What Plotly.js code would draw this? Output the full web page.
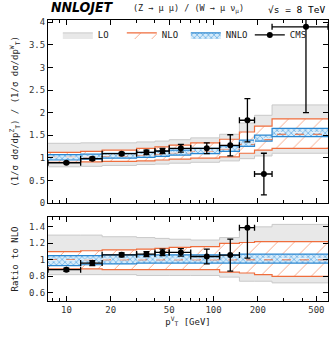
<!DOCTYPE html>
<html>
<head>
<meta charset="utf-8">
<script src="https://cdn.plot.ly/plotly-3.0.1.min.js"></script>
<style>
  html, body { margin: 0; padding: 0; background: #fff; }
  #chart { width: 331px; height: 338px; }
</style>
</head>
<body>
<div id="chart"></div>
<script>
// bins in pT^V [GeV]
var binEdges = [7.5, 12.5, 17.5, 30, 40, 50, 70, 110, 150, 190, 250, 600];

// upper panel: Z/W ratio of normalised distributions
var loLow    = [0.80, 0.81, 0.83, 0.85, 0.86, 0.88, 0.90, 0.93, 0.98, 1.04, 1.10];
var loHigh   = [1.32, 1.33, 1.33, 1.35, 1.37, 1.40, 1.44, 1.52, 1.77, 1.94, 2.17];
var nloLow   = [0.90, 0.91, 0.92, 0.93, 0.95, 0.97, 0.99, 1.02, 1.10, 1.17, 1.21];
var nloMid   = [1.01, 1.02, 1.04, 1.06, 1.08, 1.11, 1.14, 1.19, 1.30, 1.40, 1.52];
var nloHigh  = [1.12, 1.14, 1.17, 1.21, 1.24, 1.28, 1.33, 1.41, 1.57, 1.70, 1.86];
var nnloLow  = [0.95, 0.97, 0.99, 1.01, 1.03, 1.06, 1.09, 1.14, 1.25, 1.37, 1.47];
var nnloMid  = [1.01, 1.03, 1.05, 1.07, 1.09, 1.12, 1.15, 1.20, 1.32, 1.43, 1.56];
var nnloHigh = [1.07, 1.08, 1.10, 1.12, 1.14, 1.17, 1.21, 1.26, 1.39, 1.50, 1.65];

var cmsX      = [10, 15, 23.75, 35, 45, 60, 90, 130, 170, 220, 425];
var cmsY      = [0.89, 0.98, 1.09, 1.12, 1.15, 1.21, 1.21, 1.275, 1.83, 0.64, 3.9];
var cmsErr    = [0.02, 0.035, 0.03, 0.05, 0.06, 0.085, 0.12, 0.235, 0.48, 0.46, 1.9];

// lower panel: ratio to NLO
var rLoLow    = [0.82, 0.82, 0.82, 0.81, 0.81, 0.81, 0.81, 0.79, 0.74, 0.74, 0.72];
var rLoHigh   = [1.30, 1.30, 1.28, 1.27, 1.26, 1.25, 1.24, 1.27, 1.39, 1.40, 1.43];
var rNloLow   = [0.89, 0.89, 0.88, 0.88, 0.88, 0.88, 0.88, 0.85, 0.84, 0.82, 0.80];
var rNloHigh  = [1.10, 1.11, 1.12, 1.13, 1.14, 1.15, 1.16, 1.20, 1.21, 1.22, 1.22];
var rNnloLow  = [0.93, 0.94, 0.95, 0.96, 0.96, 0.96, 0.96, 0.96, 0.96, 0.96, 0.96];
var rNnloMid  = [0.99, 1.00, 1.01, 1.01, 1.01, 1.01, 1.01, 1.01, 1.015, 1.015, 1.015];
var rNnloHigh = [1.05, 1.05, 1.06, 1.06, 1.06, 1.06, 1.06, 1.06, 1.07, 1.07, 1.07];
var rNloMid   = [1, 1, 1, 1, 1, 1, 1, 1, 1, 1, 1];

var rCmsY   = [0.88, 0.96, 1.06, 1.07, 1.09, 1.09, 1.04, 1.057, 1.39, null, null];
var rCmsErr = [0.02, 0.03, 0.025, 0.03, 0.04, 0.045, 0.09, 0.195, 0.37, null, null];

var xTicks = [10, 20, 50, 100, 200, 500];
var xMinor = [8, 9, 30, 40, 60, 70, 80, 90, 300, 400];

var ORANGE = '#ef6d3c', BLUE = '#2b87d1', GREY = '#c9c9c9';
var MONO = 'DejaVu Sans Mono';

function step(v){ return v.concat([v[v.length-1]]); }

function bandTraces(lo, hi, xa, ya, opt, leg){
  var low = {x: binEdges, y: step(lo), xaxis: xa, yaxis: ya, mode: 'lines',
    line: {shape: 'hv', color: opt.edge, width: opt.w}, showlegend: false, hoverinfo: 'skip'};
  var high = {x: binEdges, y: step(hi), xaxis: xa, yaxis: ya, mode: 'lines',
    line: {shape: 'hv', color: opt.edge, width: opt.w}, fill: 'tonexty',
    fillcolor: opt.fill, name: opt.name, showlegend: leg, legendgroup: opt.name, hoverinfo: 'skip'};
  if (opt.pattern) high.fillpattern = opt.pattern;
  return [low, high];
}
function midTrace(v, xa, ya, color, dash){
  return {x: binEdges, y: step(v), xaxis: xa, yaxis: ya, mode: 'lines',
    line: {shape: 'hv', color: color, width: 1, dash: dash}, showlegend: false, hoverinfo: 'skip'};
}

var LO = {name: 'LO', edge: GREY, w: 1, fill: '#e8e8e8'};
var NLO = {name: 'NLO', edge: ORANGE, w: 1.2, fill: '#ffffff',
  pattern: {shape: '/', fgcolor: '#f48a60', bgcolor: '#ffffff', size: 12, solidity: 0.06}};
var NNLO = {name: 'NNLO', edge: BLUE, w: 1.2, fill: '#bfe0f7',
  pattern: {shape: 'x', fgcolor: '#3d95da', bgcolor: '#d5ebfa', size: 4, solidity: 0.25}};

var xErrPlus = cmsX.map(function(c, i){ return binEdges[i+1] - c; });
var xErrMinus = cmsX.map(function(c, i){ return c - binEdges[i]; });

function cmsTrace(y, err, xa, ya){
  return {x: cmsX, y: y, xaxis: xa, yaxis: ya, mode: 'markers', showlegend: false,
    marker: {color: '#000', size: 6},
    error_y: {type: 'data', array: err, color: '#000', thickness: 1.3, width: 3},
    error_x: {type: 'data', symmetric: false, array: xErrPlus, arrayminus: xErrMinus,
      color: '#000', thickness: 1.3, width: 3},
    hoverinfo: 'skip'};
}

var data = []
  .concat(bandTraces(loLow, loHigh, 'x', 'y', LO, true))
  .concat(bandTraces(nloLow, nloHigh, 'x', 'y', NLO, true))
  .concat(bandTraces(nnloLow, nnloHigh, 'x', 'y', NNLO, true))
  .concat([midTrace(nloMid, 'x', 'y', ORANGE, 'dash'), midTrace(nnloMid, 'x', 'y', '#e8f4fd', 'dash')])
  .concat([cmsTrace(cmsY, cmsErr, 'x', 'y')])
  .concat([{x: [null], y: [null], mode: 'lines+markers', name: 'CMS', line: {color: '#000', width: 1.3},
    marker: {color: '#000', size: 6}, xaxis: 'x', yaxis: 'y'}])
  .concat(bandTraces(rLoLow, rLoHigh, 'x2', 'y2', LO, false))
  .concat(bandTraces(rNloLow, rNloHigh, 'x2', 'y2', NLO, false))
  .concat(bandTraces(rNnloLow, rNnloHigh, 'x2', 'y2', NNLO, false))
  .concat([midTrace(rNloMid, 'x2', 'y2', ORANGE, 'dash'), midTrace(rNnloMid, 'x2', 'y2', '#e8f4fd', 'dash')])
  .concat([cmsTrace(rCmsY, rCmsErr, 'x2', 'y2')]);

var tickFont = {family: MONO, size: 9, color: '#333'};
function xAxis(anchor, labels){
  return {type: 'log', range: [Math.log10(7.5), Math.log10(600)], anchor: anchor,
    showline: true, linecolor: '#000', linewidth: 1, mirror: 'allticks', ticks: 'inside',
    ticklen: 5, tickcolor: '#000', tickvals: xTicks, ticktext: xTicks.map(String),
    showticklabels: labels, tickfont: tickFont, showgrid: false, zeroline: false,
    minor: {tickvals: xMinor, ticklen: 3, tickcolor: '#000', ticks: 'inside', showgrid: false}};
}
function yAxis(anchor, domain, range, vals, text){
  return {anchor: anchor, domain: domain, range: range, showline: true, linecolor: '#000',
    linewidth: 1, mirror: 'allticks', ticks: 'inside', ticklen: 5, tickcolor: '#000',
    tickvals: vals, ticktext: text, tickfont: tickFont, showgrid: false, zeroline: false};
}

var topVals = [0, 0.5, 1, 1.5, 2, 2.5, 3, 3.5, 4];
var botVals = [0.6, 0.8, 1, 1.2, 1.4];

var xa2 = xAxis('y2', true);
xa2.title = {text: 'p<sup>V</sup><sub>T</sub> [GeV]', font: {family: MONO, size: 9, color: '#222'}, standoff: 4};
var ya = yAxis('x', [0.349, 1], [0, 4.05], topVals, topVals.map(String));
ya.title = {text: '(1/σ dσ/dp<sup>Z</sup><sub>T</sub>) / (1/σ dσ/dp<sup>W</sup><sub>T</sub>)',
  font: {family: MONO, size: 9, color: '#222'}, standoff: 8};
var ya2 = yAxis('x2', [0, 0.299], [0.5, 1.52], botVals, botVals.map(String));
ya2.title = {text: 'Ratio to NLO', font: {family: MONO, size: 9, color: '#222'}, standoff: 8};

var layout = {
  width: 331, height: 338,
  margin: {l: 48, r: 3, t: 20, b: 37},
  paper_bgcolor: '#fff', plot_bgcolor: '#fff',
  showlegend: true,
  legend: {orientation: 'h', x: 0.035, y: 0.947, xanchor: 'left', yanchor: 'middle',
    entrywidth: 19, entrywidthmode: 'pixels', itemwidth: 30, traceorder: 'normal',
    font: {family: MONO, size: 9, color: '#222'}, bgcolor: 'rgba(0,0,0,0)'},
  xaxis: xAxis('y', false),
  xaxis2: xa2,
  yaxis: ya,
  yaxis2: ya2,
  annotations: [
    {text: '<b><i>NNLOJET</i></b>', xref: 'paper', yref: 'paper', x: 0.005, y: 1.01,
      xanchor: 'left', yanchor: 'bottom', showarrow: false,
      font: {family: 'DejaVu Sans Condensed', size: 14, color: '#000'}},
    {text: '(Z → μ μ) / (W → μ ν<sub>μ</sub>)', xref: 'paper', yref: 'paper', x: 0.5, y: 1.01,
      xanchor: 'center', yanchor: 'bottom', showarrow: false,
      font: {family: MONO, size: 8.5, color: '#222'}},
    {text: '√s = 8 TeV', xref: 'paper', yref: 'paper', x: 0.995, y: 1.01,
      xanchor: 'right', yanchor: 'bottom', showarrow: false,
      font: {family: MONO, size: 9.5, color: '#000'}}
  ]
};

Plotly.newPlot('chart', data, layout, {displayModeBar: false, staticPlot: true});
</script>
</body>
</html>
